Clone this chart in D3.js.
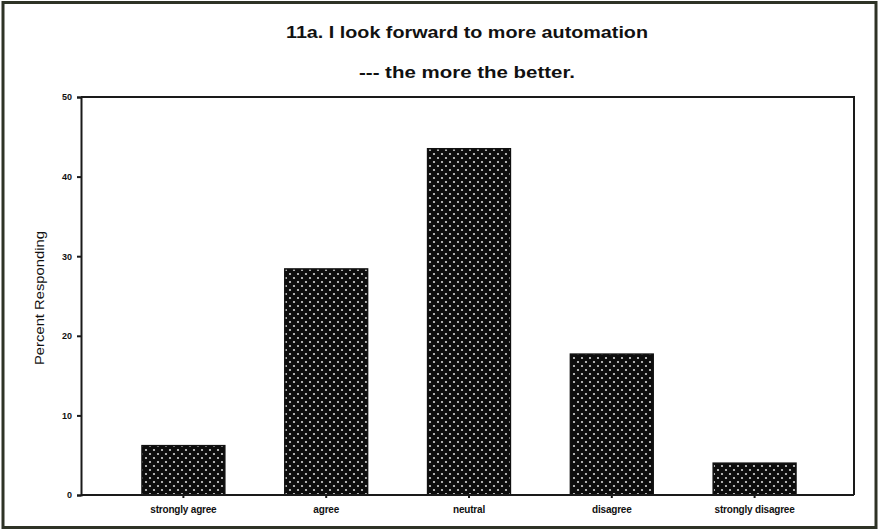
<!DOCTYPE html>
<html><head><meta charset="utf-8">
<script src="https://cdn.jsdelivr.net/npm/d3@7"></script>
<style>body{margin:0;background:#fff}svg{display:block}</style>
</head><body>
<script>
const categories = ["strongly agree","agree","neutral","disagree","strongly disagree"];
const values = [6.2, 28.4, 43.5, 17.7, 4.0];
const yTicks = [0,10,20,30,40,50];
const titleLines = ["11a. I look forward to more automation","--- the more the better."];
const yLabel = "Percent Responding";

const W = 879, H = 530;
const svg = d3.select("body").append("svg").attr("width", W).attr("height", H);

const defs = svg.append("defs");
const pat = defs.append("pattern").attr("id","dots").attr("patternUnits","userSpaceOnUse")
  .attr("width",8).attr("height",8);
pat.append("rect").attr("width",8).attr("height",8).attr("fill","#0d0d0d");
pat.append("circle").attr("cx",2).attr("cy",2).attr("r",1.1).attr("fill","#d6d6d6");
pat.append("circle").attr("cx",6).attr("cy",6).attr("r",1.1).attr("fill","#d6d6d6");

// outer frame
svg.append("rect").attr("x",3).attr("y",2.5).attr("width",873).attr("height",525)
  .attr("fill","none").attr("stroke","#2e3326").attr("stroke-width",3);

const pL = 81, pR = 854, pT = 97, pB = 495;
const x = d3.scaleBand().domain(categories).range([112, 826]).paddingInner(0.42).paddingOuter(0.21);
const y = d3.scaleLinear().domain([0,50]).range([pB, pT]);

// titles
svg.selectAll("text.title").data(titleLines).join("text")
  .attr("class","title")
  .attr("x", 467).attr("y",(d,i)=> 38 + i*40)
  .attr("text-anchor","middle")
  .attr("font-family","Liberation Sans, Arial, sans-serif")
  .attr("font-size",17).attr("font-weight","bold").attr("fill","#111")
  .attr("textLength",(d,i)=> i===0 ? 362 : 216).attr("lengthAdjust","spacingAndGlyphs")
  .text(d=>d);

// bars
svg.selectAll("rect.bar").data(values).join("rect")
  .attr("class","bar")
  .attr("x",(d,i)=>x(categories[i]))
  .attr("y",d=>y(d))
  .attr("width",x.bandwidth())
  .attr("height",d=>pB - y(d))
  .attr("fill","url(#dots)")
  .attr("stroke","#111").attr("stroke-width",1.5);

// frame top and right
svg.append("path").attr("d",`M${pL},${pT}H${pR}V${pB}`)
  .attr("fill","none").attr("stroke","#1a1a1a").attr("stroke-width",2);

// y axis
const yAxis = svg.append("g").attr("transform",`translate(${pL},0)`)
  .call(d3.axisLeft(y).tickValues(yTicks).tickSize(4).tickPadding(5));
yAxis.select(".domain").attr("stroke","#1a1a1a").attr("stroke-width",2);
yAxis.selectAll("line").attr("stroke","#1a1a1a").attr("stroke-width",2);
yAxis.selectAll("text").attr("font-family","Liberation Sans, Arial, sans-serif")
  .attr("font-size",9).attr("font-weight","bold").attr("fill","#111");

// x axis
const xAxis = svg.append("g").attr("transform",`translate(0,${pB})`)
  .call(d3.axisBottom(x).tickSize(3).tickPadding(8).tickSizeOuter(0));
xAxis.select(".domain").attr("d",`M${pL},0H${pR}`).attr("stroke","#1a1a1a").attr("stroke-width",2);
xAxis.selectAll("line").attr("stroke","#1a1a1a").attr("stroke-width",2);
xAxis.selectAll("text").attr("font-family","Liberation Sans, Arial, sans-serif")
  .attr("font-size",10).attr("font-weight","bold").attr("fill","#111")
  .attr("letter-spacing","-0.2");

// y label
svg.append("text").attr("transform",`translate(44,298) rotate(-90)`)
  .attr("text-anchor","middle")
  .attr("font-family","Liberation Sans, Arial, sans-serif")
  .attr("font-size",13).attr("fill","#111")
  .attr("textLength",134).attr("lengthAdjust","spacingAndGlyphs")
  .text(yLabel);
</script>
</body></html>
